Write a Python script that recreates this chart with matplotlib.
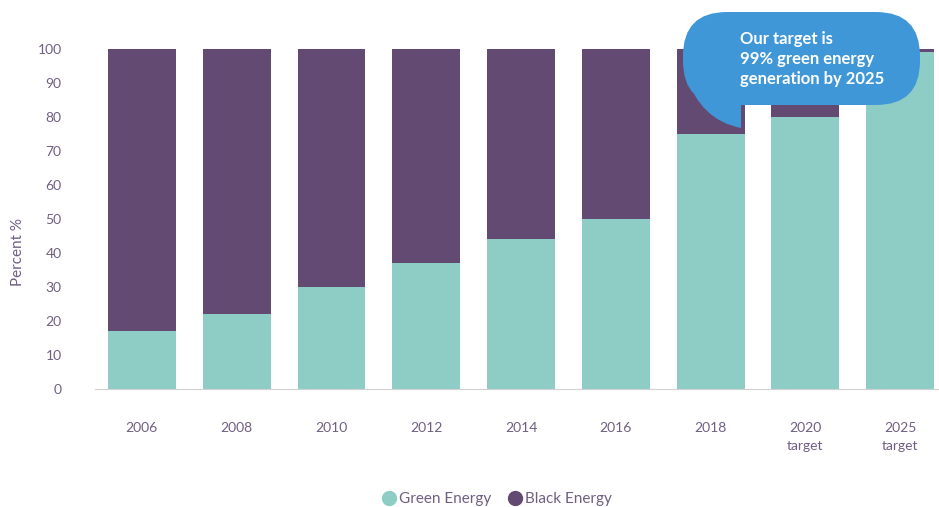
import matplotlib.pyplot as plt
from matplotlib.patches import FancyBboxPatch, PathPatch
from matplotlib.path import Path
from matplotlib.lines import Line2D
from matplotlib.transforms import IdentityTransform

plt.rcParams["font.family"] = ["Lato", "DejaVu Sans"]

categories = ["2006", "2008", "2010", "2012", "2014", "2016", "2018", "2020\ntarget", "2025\ntarget"]
green = [17, 22, 30, 37, 44, 50, 75, 80, 99]
black = [100 - g for g in green]

GREEN = "#8ecdc6"
PURPLE = "#634a72"
TEXT = "#6f5f82"
BLUE = "#3f97d8"

W, H = 939, 507
fig = plt.figure(figsize=(W / 100, H / 100), dpi=100)
ax = fig.add_axes([95 / W, 1 - 389 / H, 1 - 95 / W, (389 - 49) / H])

x = range(len(categories))
ax.bar(x, green, width=0.716, color=GREEN, label="Green Energy")
ax.bar(x, black, width=0.716, bottom=green, color=PURPLE, label="Black Energy")

ax.set_xlim(-0.495, 8.41)
ax.set_ylim(0, 100)
ax.set_yticks(range(0, 101, 10))
ax.set_xticks(list(x))
ax.set_xticklabels(categories, linespacing=1.6, va="top")
ax.tick_params(axis="y", length=0, pad=24, labelsize=10, labelcolor=TEXT)
ax.tick_params(axis="x", length=0, pad=24, labelsize=10, labelcolor=TEXT)
for s in ["top", "right", "left"]:
    ax.spines[s].set_visible(False)
ax.spines["bottom"].set_color("#d0d0d0")
ax.spines["bottom"].set_linewidth(0.8)
fig.text(18 / W, 1 - 252 / H, "Percent %", rotation=90, ha="center", va="center",
         fontsize=11, color=TEXT)


# speech bubble, drawn in pixel coordinates (origin bottom-left)
def px(xp, yp):
    return (xp, H - yp)


bub = FancyBboxPatch(px(683, 105), 920 - 683, 105 - 12,
                     boxstyle="round,pad=0,rounding_size=44",
                     transform=IdentityTransform(), facecolor=BLUE,
                     edgecolor="none", zorder=5)
fig.add_artist(bub)
tail = Path([px(686, 75), px(741, 75), px(741, 128), px(700, 120), px(686, 75)],
            [Path.MOVETO, Path.LINETO, Path.LINETO, Path.CURVE3, Path.CURVE3])
fig.add_artist(PathPatch(tail, transform=IdentityTransform(), facecolor=BLUE,
                         edgecolor="none", zorder=5))
fig.text(740 / W, 1 - 59 / H, "Our target is\n99% green energy\ngeneration by 2025",
         ha="left", va="center", color="white", fontsize=12, fontweight="bold",
         linespacing=1.3, zorder=6)

handles = [Line2D([], [], marker="o", ls="", color=GREEN, markersize=10),
           Line2D([], [], marker="o", ls="", color=PURPLE, markersize=10)]
fig.legend(handles, ["Green Energy", "Black Energy"], loc="center",
           bbox_to_anchor=(496 / W, 1 - 499 / H), ncol=2, frameon=False, fontsize=11,
           labelcolor=TEXT, handletextpad=0.05, columnspacing=1.0, handlelength=1.2)

fig.savefig("out.png", dpi=100)
